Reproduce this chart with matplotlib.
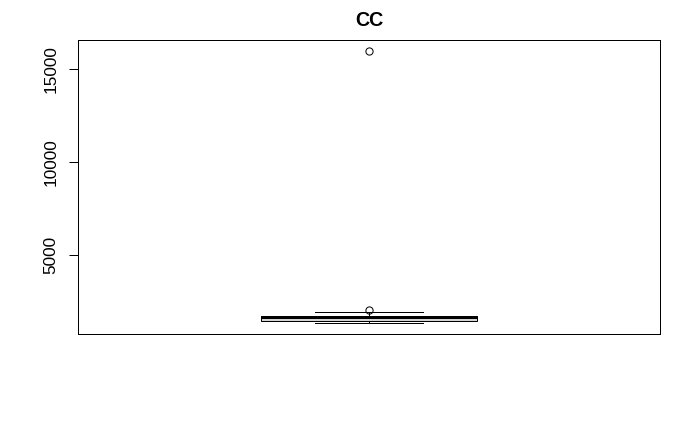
import matplotlib
matplotlib.use("Agg")
import matplotlib.pyplot as plt

# Data (box statistics)
title = "CC"
q1 = 1420
median = 1630
q3 = 1700
whisker_low = 1300
whisker_high = 1920
fliers = [2030, 16000]
yticks = [5000, 10000, 15000]
ytick_labels = ["5000", "10000", "15000"]

plt.rcParams['font.family'] = ['Liberation Sans', 'DejaVu Sans']

fig = plt.figure(figsize=(7.0, 4.32), dpi=100)
ax = fig.add_axes([78/700, 1 - 334/432, (660-78)/700, (334-40)/432])

stats = [dict(med=median, q1=q1, q3=q3, whislo=whisker_low, whishi=whisker_high,
              fliers=fliers, label="")]
px = 0.72
ax.bxp(stats, positions=[1], widths=0.4, capwidths=0.2, patch_artist=True,
       boxprops=dict(facecolor="#d3d3d3", edgecolor="black", linewidth=px),
       medianprops=dict(color="black", linewidth=3*px, solid_capstyle="butt"),
       whiskerprops=dict(color="black", linewidth=px),
       capprops=dict(color="black", linewidth=px),
       flierprops=dict(marker="o", markerfacecolor="none", markeredgecolor="black",
                       markersize=5.2, markeredgewidth=px))

allv = [whisker_low, whisker_high, q1, q3] + fliers
lo, hi = min(allv), max(allv)
pad = 0.04 * (hi - lo)
ax.set_ylim(lo - pad, hi + pad)
ax.set_xlim(0.46, 1.54)

ax.set_xticks([])
ax.set_yticks(yticks)
ax.set_yticklabels(ytick_labels, rotation=90, va="center", fontsize=12.4)
ax.tick_params(axis="y", length=6.5, width=px, pad=7.5)
for s in ax.spines.values():
    s.set_linewidth(px)

fig.text(369/700, 1 - 21/432, title, ha="center", va="center",
         fontsize=14.2, fontweight="bold")

fig.savefig("out.png", dpi=100)
